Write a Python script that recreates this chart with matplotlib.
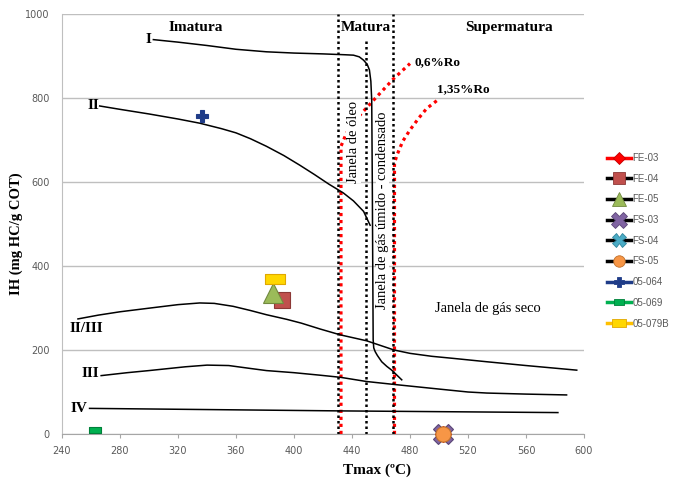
import matplotlib
matplotlib.use("Agg")
import matplotlib.pyplot as plt
from matplotlib.lines import Line2D

# kerogen evolution curves (Tmax vs IH)
curve_I_x = [303, 320, 340, 360, 381, 400, 420, 435, 441, 445, 448, 450.5, 452, 453, 453.6,
             454, 454.3, 454.6, 455, 456, 457.5, 460.5, 464, 467.4, 471, 474.3]
curve_I_y = [939, 933, 925, 916, 910, 907, 905, 903, 902, 898, 890, 880, 867, 840, 795,
             600, 400, 224, 205, 196, 187, 172, 161, 152, 140, 129]
curve_II_x = [266, 280, 300, 320, 335, 350, 360, 370, 381, 393, 404, 414, 424, 434, 441, 448, 452.5]
curve_II_y = [781, 773, 762, 750, 740, 727, 717, 703, 685, 663, 640, 618, 595, 574, 555, 530, 497]
curve_IIIII_x = [251, 265, 280, 301, 320, 335, 345, 358, 370, 381, 395, 405, 418, 432, 450,
                 469, 480, 495, 510, 533, 560, 595]
curve_IIIII_y = [274, 283, 291, 300, 308, 312, 311, 304, 294, 284, 273, 264, 250, 236, 222,
                 200, 192, 185, 180, 172, 163, 152]
curve_III_x = [267, 285, 300, 325, 340, 355, 370, 381, 400, 418, 432, 450, 469, 500, 520, 533, 560, 588]
curve_III_y = [139, 146, 151, 160, 164, 163, 156, 151, 146, 140, 135, 125, 118, 107, 100, 97.5, 95, 93]
curve_IV_x = [259, 432, 582]
curve_IV_y = [61, 55, 51]

# vitrinite reflectance isolines
ro06_x = [432.4, 432.4, 436, 441, 447, 456, 469, 480]
ro06_y = [0, 685, 715, 742, 765, 799, 847, 882]
ro135_x = [469.3, 469.3, 471, 475, 480, 486, 491.5, 499]
ro135_y = [0, 645, 664, 697, 724, 752, 775, 795]

# maturity zone limits
zone_x = [430.3, 449.9, 468.5]
zone_top = [1000, 940, 1000]

# samples
samples = ['FE-03', 'FE-04', 'FE-05', 'FS-03', 'FS-04', 'FS-05', '05-064', '05-069', '05-079B']
sample_tmax = [503, 391.5, 385.7, 503, 503, 503, 336.3, 262.8, 386.9]
sample_ih = [1, 319, 336, 1, 1, 1, 757, 9.5, 369]

rect = [(-1, -0.55), (1, -0.55), (1, 0.55), (-1, 0.55), (-1, -0.55)]
styles = {
    'FE-03':   dict(marker='D', ms=8, mfc='#FF0000', mec='#C00000', line='#FF0000'),
    'FE-04':   dict(marker='s', ms=12, mfc='#C0504D', mec='#8C3836', line='black'),
    'FE-05':   dict(marker='^', ms=14, mfc='#9BBB59', mec='#71893F', line='black'),
    'FS-03':   dict(marker='X', ms=15, mfc='#8064A2', mec='#5C4776', line='black'),
    'FS-04':   dict(marker='X', ms=13, mfc='#4BACC6', mec='#31859C', line='black'),
    'FS-05':   dict(marker='o', ms=11, mfc='#F79646', mec='#C0702A', line='black'),
    '05-064':  dict(marker='P', ms=9, mfc='#1F3C88', mec='#1F3C88', line='#1F3C88'),
    '05-069':  dict(marker=rect, ms=9, mfc='#00B050', mec='#00803A', line='#00B050'),
    '05-079B': dict(marker=rect, ms=14, mfc='#FFD700', mec='#E0A800', line='#FFC000'),
}
draw_order = ['FS-04', 'FS-03', 'FE-03', 'FS-05', '05-064', '05-069', 'FE-04', 'FE-05', '05-079B']

serif = 'Liberation Serif'
dots = (0, (1, 1.2))

fig = plt.figure(figsize=(6.73, 4.79), dpi=100)
ax = fig.add_axes([62 / 673, 1 - 434 / 479, (584 - 62) / 673, (434 - 14) / 479])

ax.set_xlim(240, 600)
ax.set_ylim(0, 1000)
ax.set_xticks(range(240, 601, 40))
ax.set_yticks(range(0, 1001, 200))
ax.yaxis.grid(True, color='#BFBFBF', lw=1)
ax.set_axisbelow(True)
for s in ['top', 'right']:
    ax.spines[s].set_visible(False)
ax.spines['left'].set_color('#BFBFBF')
ax.spines['bottom'].set_color('#A6A6A6')
ax.tick_params(axis='x', length=3, color='#A6A6A6', labelsize=7, labelcolor='#595959', pad=6)
ax.tick_params(axis='y', length=0, labelsize=7, labelcolor='#595959', pad=9)

# curves
for cx, cy in [(curve_I_x, curve_I_y), (curve_II_x, curve_II_y), (curve_IIIII_x, curve_IIIII_y),
               (curve_III_x, curve_III_y), (curve_IV_x, curve_IV_y)]:
    ax.plot(cx, cy, color='black', lw=1.1, zorder=3, solid_joinstyle='round')

ax.plot(ro06_x, ro06_y, color='#FF0000', lw=2.3, ls=dots, zorder=2)
ax.plot(ro135_x, ro135_y, color='#FF0000', lw=2.3, ls=dots, zorder=2)
for zx, zt in zip(zone_x, zone_top):
    ax.plot([zx, zx], [0, zt], color='black', lw=1.8, ls=dots, zorder=2)

# samples
for name in draw_order:
    i = samples.index(name)
    st = styles[name]
    ax.plot(sample_tmax[i], sample_ih[i], ls='none', marker=st['marker'], ms=st['ms'],
            mfc=st['mfc'], mec=st['mec'], mew=0.8, clip_on=False, zorder=5)

# labels
lab = dict(family=serif, fontweight='bold', fontsize=11, zorder=6)
ax.text(302, 940, 'I', ha='right', va='center', **lab)
ax.text(266, 781, 'II', ha='right', va='center', **lab)
ax.text(245.5, 252, 'II/III', ha='left', va='center', **lab)
ax.text(265.5, 143, 'III', ha='right', va='center', **lab)
ax.text(257.5, 61, 'IV', ha='right', va='center', **lab)
ax.text(332.4, 969, 'Imatura', ha='center', va='center', **lab)
ax.text(449.8, 969, 'Matura', ha='center', va='center', **lab)
ax.text(548.6, 969, 'Supermatura', ha='center', va='center', **lab)
ax.text(482.8, 886, '0,6%Ro', ha='left', va='center', family=serif, fontweight='bold', fontsize=9.5)
ax.text(498.4, 821, '1,35%Ro', ha='left', va='center', family=serif, fontweight='bold', fontsize=9.5)
ax.text(534, 298, 'Janela de gás seco', ha='center', va='center', family=serif, fontsize=10.5)
ax.text(441, 696, 'Janela de óleo', ha='center', va='center', rotation=90, family=serif,
        fontsize=10.5, zorder=4, bbox=dict(fc='white', ec='none', pad=0.5))
ax.text(461, 533, 'Janela de gás úmido - condensado', ha='center', va='center', rotation=90,
        family=serif, fontsize=10.5, zorder=4, bbox=dict(fc='white', ec='none', pad=0.3))

fig.text(16.5 / 673, 1 - 234 / 479, 'IH (mg HC/g COT)', rotation=90, ha='center', va='center',
         family=serif, fontweight='bold', fontsize=10.5)
fig.text(376.7 / 673, 1 - 470 / 479, 'Tmax (ºC)', ha='center', va='center',
         family=serif, fontweight='bold', fontsize=11)

# legend
handles = []
for name in samples:
    st = styles[name]
    handles.append(Line2D([], [], color=st['line'], lw=2.5, marker=st['marker'],
                          ms=st['ms'] * 0.75, mfc=st['mfc'], mec=st['mec'], mew=0.6))
fig.legend(handles, samples, loc='upper left', bbox_to_anchor=(607 / 673, 1 - 153 / 479),
           frameon=False, borderpad=0, borderaxespad=0, handlelength=2.5, handletextpad=0.1,
           labelspacing=1.1, prop=dict(family='Liberation Sans', size=7), labelcolor='#595959')

fig.savefig('out.png', dpi=100)
